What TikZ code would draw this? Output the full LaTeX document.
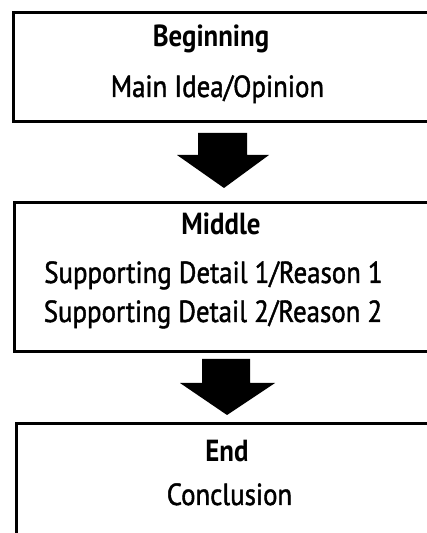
\documentclass[tikz,border=0pt]{standalone}
\usepackage{fontspec}
\setmainfont{PT Sans}[FakeStretch=0.88]
\newfontfamily\bodyfont{PT Sans}[FakeStretch=0.88, FakeBold=1.4]
\begin{document}
\begin{tikzpicture}[x=1pt,y=1pt,
  box/.style={draw=black, line width=3pt, rectangle, inner sep=0pt},
  lbl/.style={anchor=base, inner sep=0pt, font=\fontsize{30.5}{36}\selectfont\bodyfont},
  blbl/.style={anchor=base, inner sep=0pt, font=\fontsize{30.5}{36}\selectfont\bfseries}]
\useasboundingbox (0,0) rectangle (427,533);
\begin{scope}
\clip (0,0) rectangle (427,533);
\node[box, minimum width=427pt, minimum height=109pt] (b1) at (226.5,465.5) {};
\node[box, minimum width=426pt, minimum height=149pt] (b2) at (227,255.5) {};
\node[box, minimum width=424pt, minimum height=121pt] (b3) at (228,48.5) {};
\end{scope}
\node[blbl] (t1) at (211,486) {Beginning};
\node[lbl] (t2) at (217.5,436) {Main Idea/Opinion};
\node[blbl] (t3) at (221,298) {Middle};
\node[lbl] (t4) at (213.5,250) {Supporting Detail 1/Reason 1};
\node[lbl] (t5) at (213,211) {Supporting Detail 2/Reason 2};
\node[blbl] (t6) at (227,71) {End};
\node[lbl] (t7) at (229.5,28) {Conclusion};
% arrows
\fill[black] (198,400) -- (247,400) -- (247,378) -- (269,378) -- (224,345)
  -- (177,378) -- (198,378) -- cycle;
\fill[black] (202,174) -- (250,174) -- (250,150) -- (275,150) -- (227,118)
  -- (180,150) -- (202,150) -- cycle;
\end{tikzpicture}
\end{document}
